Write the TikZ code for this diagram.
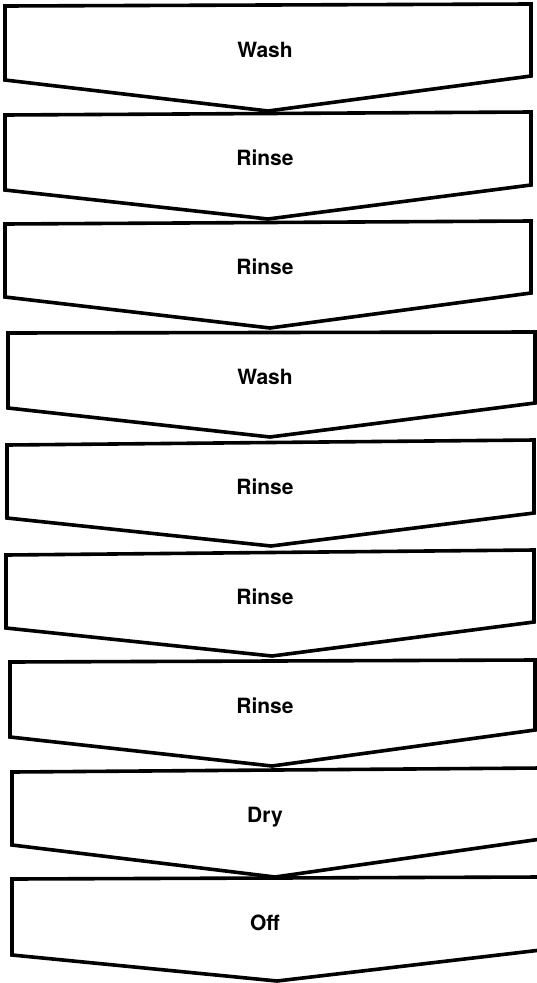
\documentclass[tikz,border=0pt]{standalone}
\usepackage{fontspec}
\setmainfont{TeX Gyre Heros}
\begin{document}
\begin{tikzpicture}[x=1pt,y=-1pt,
  chev/.style={draw=black,line width=3.6pt,line join=miter},
  lbl/.style={font=\bfseries\fontsize{21}{25}\selectfont,anchor=base,inner sep=0pt}]
\useasboundingbox[fill=white] (0,0) rectangle (537,983);
% L, tl, bl, tip x, tip y, R, br, tr, baseline, label, name
\foreach \L/\tl/\bl/\tx/\ty/\R/\br/\tr/\bs/\txt/\nm in {
  5/6/80/268/111/531/76/4/57/Wash/s1,
  5/115/190/268/219/531/185/112/165/Rinse/s2,
  5/224/297/270/328/531/293/221/274/Rinse/s3,
  8/333/408/270/437/535/403/332/384/Wash/s4,
  7/445/518/271/546/534/513/440/494/Rinse/s5,
  6/555/628/272/656/534/622/550/604/Rinse/s6,
  10/662/737/272/766/535/730/660/713/Rinse/s7,
  12/772/845/275/877/541/839/768/822/Dry/s8,
  12/879/955/277/981/541/950/877/930/Off/s9}
{
  \draw[chev] (\L,\tl) -- (\L,\bl) -- (\tx,\ty) -- (\R,\br) -- (\R,\tr) -- cycle;
  \node[lbl] (\nm) at (265,\bs) {\txt};
}
\end{tikzpicture}
\end{document}
